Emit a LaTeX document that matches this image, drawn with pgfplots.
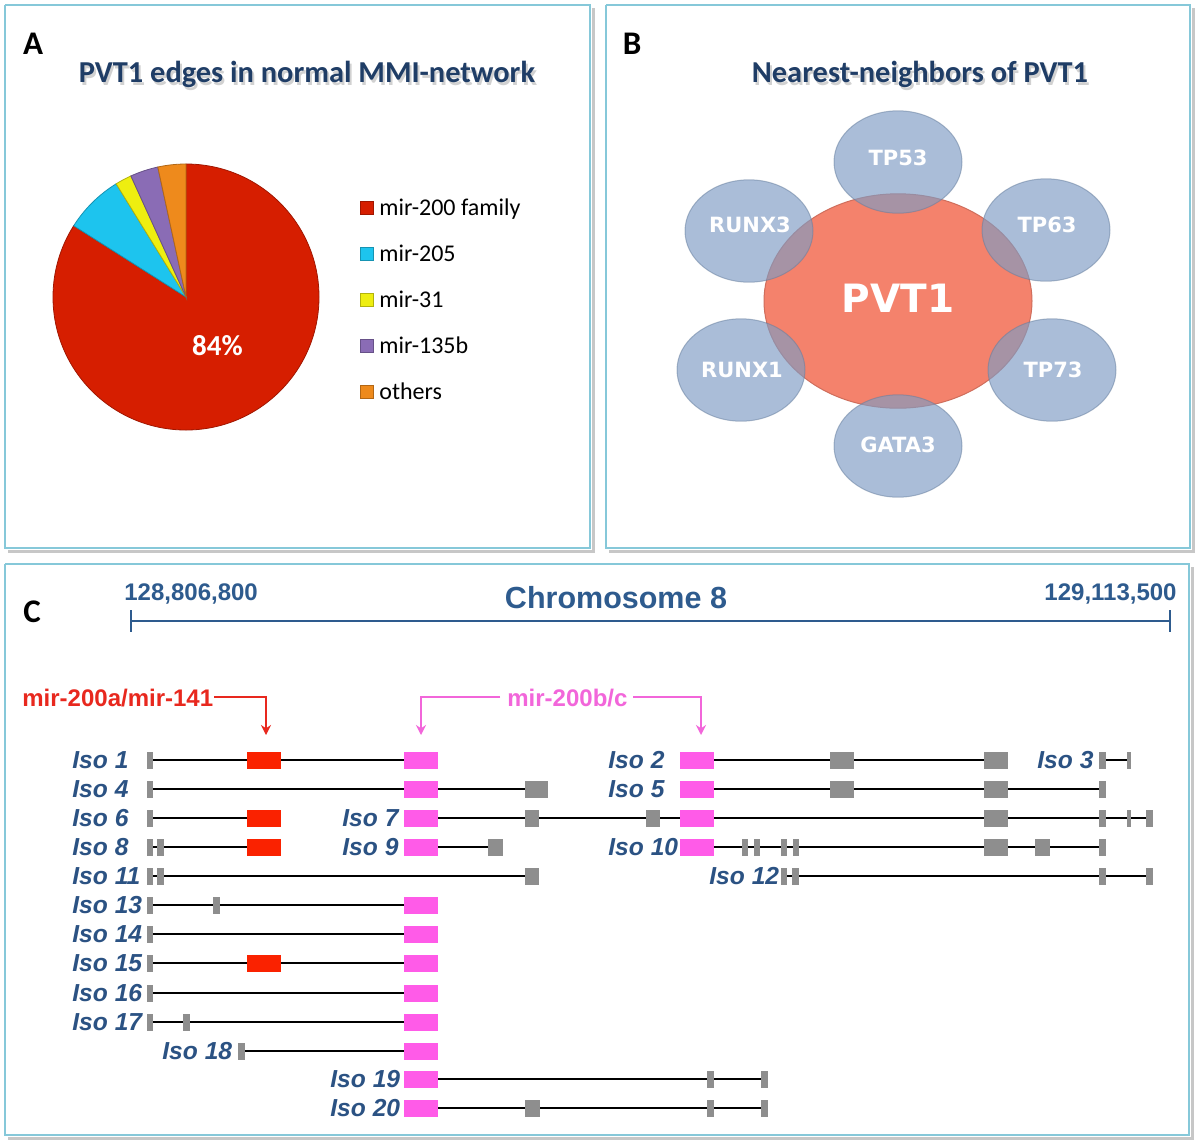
\documentclass[border=0pt]{standalone}
\usepackage{fontspec}
\setmainfont{Carlito}
\newfontfamily\arialfont{Liberation Sans}
\newfontfamily\verdfont{DejaVu Sans}
\usepackage{pgfplots}
\pgfplotsset{compat=1.18}
\usepackage{pgfplotstable}
\usetikzlibrary{arrows.meta}

\definecolor{pie0}{HTML}{D61E00}
\definecolor{pie1}{HTML}{1DC4EE}
\definecolor{pie2}{HTML}{EEEE10}
\definecolor{pie3}{HTML}{8A6CB5}
\definecolor{pie4}{HTML}{EE8A1C}
\definecolor{titleblue}{HTML}{1F3D66}
\definecolor{isoblue}{HTML}{2B5283}
\definecolor{chromblue}{HTML}{2E5B8E}
\definecolor{panelline}{HTML}{86C8D9}
\definecolor{discblue}{HTML}{7E9CC4}
\definecolor{pvtred}{HTML}{F4826C}
\definecolor{exgray}{HTML}{8E8E8E}
\definecolor{expink}{HTML}{FF5BE8}
\definecolor{exred}{HTML}{FA2200}
\definecolor{mirred}{HTML}{E8281E}
\definecolor{mirpink}{HTML}{F266DA}

% panel A: shares (percent), clockwise from 12 o'clock
\pgfplotstableread{
share
84.0
7.2
2.0
3.4
3.4
}\piedata

\gdef\pieacc{90}
\foreach \i in {0,...,4}{%
  \pgfplotstablegetelem{\i}{share}\of\piedata
  \pgfmathsetmacro\pieB{\pieacc-3.6*\pgfplotsretval}%
  \expandafter\xdef\csname pieS\i\endcsname{\pieacc}%
  \expandafter\xdef\csname pieE\i\endcsname{\pieB}%
  \xdef\pieacc{\pieB}%
}

% panel B: neighbour discs
\pgfplotstableread{
x y
898 162
749 231
1046 230
741 370
1052 370
898 446
}\discs

% panel C: introns (start, row, length)
\pgfplotstableread{
x y w
150 760 254
714 760 286
1103 760 26
150 789 390
714 789 389
150 818 100
438 818 712
150 847 100
438 847 57
714 847 389
150 876 382
784 876 366
150 905 254
150 934 254
150 963 254
150 993 254
150 1022 254
241 1051 163
438 1079 327
438 1108 327
}\introns

% exons (start, row, width)
\pgfplotstableread{
x y w
147 760 6
830 760 24
984 760 24
1099 760 7
1127 760 4
147 789 6
525 789 23
830 789 24
984 789 24
1099 789 7
147 818 6
525 818 14
646 818 14
984 818 24
1099 818 7
1127 818 4
1146 818 7
147 847 6
157 847 7
488 847 15
742 847 6
754 847 6
781 847 6
793 847 6
984 847 24
1035 847 15
1099 847 7
147 876 6
157 876 7
525 876 14
781 876 6
792 876 7
1099 876 7
1146 876 7
147 905 6
213 905 7
147 934 6
147 963 6
147 993 6
147 1022 6
183 1022 7
238 1051 7
707 1079 7
761 1079 7
525 1108 15
707 1108 7
761 1108 7
}\grayex

\pgfplotstableread{
x y w
247 760 34
247 818 34
247 847 34
247 963 34
}\redex

\pgfplotstableread{
x y w
404 760 34
680 760 34
404 789 34
680 789 34
404 818 34
680 818 34
404 847 34
680 847 34
404 905 34
404 934 34
404 963 34
404 993 34
404 1022 34
404 1051 34
404 1079 34
404 1108 34
}\pinkex

\begin{document}
\begin{tikzpicture}
\begin{axis}[
  width=600pt, height=573.5pt, scale only axis,
  xmin=0, xmax=1200, ymin=0, ymax=1147, y dir=reverse,
  hide axis, clip=false, clip marker paths=true,
]
\addplot[fill=white, draw=none] coordinates {(0,0) (1200,0) (1200,1147) (0,1147)};

% panel frames
\addplot[black!22, line width=1.5pt] coordinates {(593,8) (593,551) (8,551)};
\addplot[black!22, line width=1.5pt] coordinates {(1193,8) (1193,551) (609,551)};
\addplot[black!22, line width=1.5pt] coordinates {(1192,567) (1192,1138) (8,1138)};
\addplot[panelline, line width=1pt] coordinates {(5,5) (590,5) (590,548) (5,548) (5,5)};
\addplot[panelline, line width=1pt] coordinates {(606,5) (1190,5) (1190,548) (606,548) (606,5)};
\addplot[panelline, line width=1pt] coordinates {(5,564) (1189,564) (1189,1135) (5,1135) (5,564)};

\tikzset{
  letter/.style={anchor=base, font=\bfseries\fontsize{16.5}{19}\selectfont},
  ttl/.style={anchor=base, font=\bfseries\fontsize{15.2}{18}\selectfont},
}

% ---------- A ----------
\node[letter] at (axis cs:33,54) {A};
\node[ttl, text=black!18] at (axis cs:309,85) {PVT1 edges in normal MMI-network};
\node[ttl, text=titleblue] at (axis cs:307,82) {PVT1 edges in normal MMI-network};
\pgfplotsinvokeforeach{0,...,4}{
  \fill[pie#1, draw=pie#1!75!black, line width=0.4pt] (axis cs:186,297) -- ++(\csname pieS#1\endcsname:66.5pt)
    arc[start angle=\csname pieS#1\endcsname, end angle=\csname pieE#1\endcsname, radius=66.5pt] -- cycle;
}
\node[text=white, font=\bfseries\fontsize{14.5}{17}\selectfont] at (axis cs:217.5,346) {84\%};
\addplot[only marks, mark=square*, mark size=3.1pt, pie0, mark options={draw=pie0!75!black}] coordinates {(367,208)};
\addplot[only marks, mark=square*, mark size=3.1pt, pie1, mark options={draw=pie1!75!black}] coordinates {(367,254)};
\addplot[only marks, mark=square*, mark size=3.1pt, pie2, mark options={draw=pie2!75!black}] coordinates {(367,300)};
\addplot[only marks, mark=square*, mark size=3.1pt, pie3, mark options={draw=pie3!75!black}] coordinates {(367,346)};
\addplot[only marks, mark=square*, mark size=3.1pt, pie4, mark options={draw=pie4!75!black}] coordinates {(367,392)};
\tikzset{leg/.style={anchor=base west, inner sep=0pt, font=\fontsize{12}{14}\selectfont}}
\node[leg] at (axis cs:379,215) {mir-200 family};
\node[leg] at (axis cs:379,261) {mir-205};
\node[leg] at (axis cs:379,307) {mir-31};
\node[leg] at (axis cs:379,353) {mir-135b};
\node[leg] at (axis cs:379,399) {others};

% ---------- B ----------
\node[letter] at (axis cs:632,54) {B};
\node[ttl, text=black!18] at (axis cs:922,85) {Nearest-neighbors of PVT1};
\node[ttl, text=titleblue] at (axis cs:920,82) {Nearest-neighbors of PVT1};
\addplot[only marks, mark=*, mark size=67pt, mark options={yscale=0.8, fill=pvtred, draw=pvtred!85!black, line width=0.5pt}] coordinates {(898,301)};
\addplot[only marks, mark=*, mark size=32pt, mark options={yscale=0.8, fill=discblue, fill opacity=0.66, draw=discblue!80!black, draw opacity=0.5, line width=0.5pt}] table {\discs};
\node[text=white, font=\verdfont\bfseries\fontsize{19.5}{22}\selectfont] at (axis cs:898,298) {PVT1};
\tikzset{disc/.style={text=white, font=\verdfont\bfseries\fontsize{10.5}{12}\selectfont}}
\node[disc] at (axis cs:898,158) {TP53};
\node[disc] at (axis cs:750,225) {RUNX3};
\node[disc] at (axis cs:1047,225) {TP63};
\node[disc] at (axis cs:742,370) {RUNX1};
\node[disc] at (axis cs:1053,370) {TP73};
\node[disc] at (axis cs:898,445) {GATA3};

% ---------- C ----------
\node[letter] at (axis cs:32,622) {C};
\addplot[chromblue, line width=1.4pt] coordinates {(131,621) (1170,621)};
\addplot[chromblue, line width=1.4pt] coordinates {(131,610) (131,632)};
\addplot[chromblue, line width=1.4pt] coordinates {(1170,610) (1170,632)};
\tikzset{chr/.style={inner sep=0pt, text=chromblue, font=\arialfont\bfseries\fontsize{12}{14}\selectfont}}
\node[chr, anchor=base west] at (axis cs:124,600) {128,806,800};
\node[chr, anchor=base east] at (axis cs:1177,600) {129,113,500};
\node[anchor=base, inner sep=0pt, text=chromblue, font=\arialfont\bfseries\fontsize{15.25}{18}\selectfont] at (axis cs:616,608) {Chromosome 8};

% microRNA pointers
\addplot[mirred, line width=1pt, -{Stealth[length=5pt, width=5pt]}] coordinates {(214,697) (266,697) (266,735)};
\addplot[mirpink, line width=1pt, -{Stealth[length=5pt, width=5pt]}] coordinates {(500,697) (421,697) (421,735)};
\addplot[mirpink, line width=1pt, -{Stealth[length=5pt, width=5pt]}] coordinates {(633,697) (701,697) (701,735)};
\node[anchor=base west, inner sep=0pt, text=mirred, font=\arialfont\bfseries\fontsize{12}{14}\selectfont] at (axis cs:22,706) {mir-200a/mir-141};
\node[anchor=base west, inner sep=0pt, text=mirpink, font=\arialfont\bfseries\fontsize{12}{14}\selectfont] at (axis cs:507,706) {mir-200b/c};

% isoforms
\addplot[black, line width=1.4pt, quiver={u=\thisrow{w}, v=0}] table {\introns};
\addplot[exgray, line width=8.5pt, quiver={u=\thisrow{w}, v=0}] table {\grayex};
\addplot[exred, line width=8.5pt, quiver={u=\thisrow{w}, v=0}] table {\redex};
\addplot[expink, line width=8.5pt, quiver={u=\thisrow{w}, v=0}] table {\pinkex};

\tikzset{iso/.style={anchor=base west, inner sep=0pt, text=isoblue, font=\arialfont\bfseries\itshape\fontsize{12.3}{14}\selectfont}}
\node[iso] at (axis cs:72,768.5) {Iso 1};
\node[iso] at (axis cs:608,768.5) {Iso 2};
\node[iso] at (axis cs:1037,768.5) {Iso 3};
\node[iso] at (axis cs:72,797.5) {Iso 4};
\node[iso] at (axis cs:608,797.5) {Iso 5};
\node[iso] at (axis cs:72,826.5) {Iso 6};
\node[iso] at (axis cs:342,826.5) {Iso 7};
\node[iso] at (axis cs:72,855.5) {Iso 8};
\node[iso] at (axis cs:342,855.5) {Iso 9};
\node[iso] at (axis cs:608,855.5) {Iso 10};
\node[iso] at (axis cs:72,884.5) {Iso 11};
\node[iso] at (axis cs:709,884.5) {Iso 12};
\node[iso] at (axis cs:72,913.5) {Iso 13};
\node[iso] at (axis cs:72,942.5) {Iso 14};
\node[iso] at (axis cs:72,971.5) {Iso 15};
\node[iso] at (axis cs:72,1001.5) {Iso 16};
\node[iso] at (axis cs:72,1030.5) {Iso 17};
\node[iso] at (axis cs:162,1059.5) {Iso 18};
\node[iso] at (axis cs:330,1087.5) {Iso 19};
\node[iso] at (axis cs:330,1116.5) {Iso 20};
\end{axis}
\end{tikzpicture}
\end{document}
